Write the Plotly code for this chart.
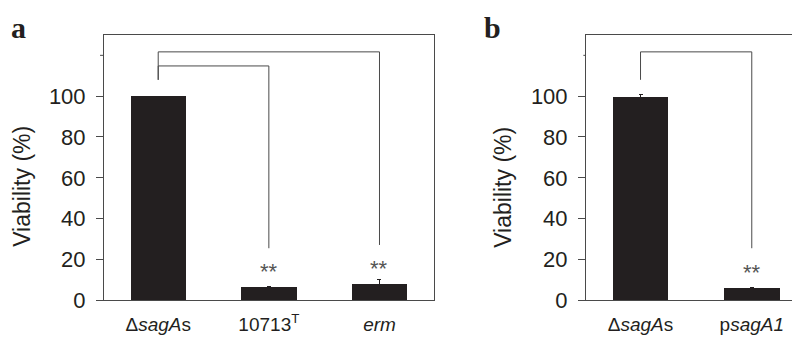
import plotly.graph_objects as go

# ---- data ----
cats_a = ["Δ<i>sagA</i>s", "10713<sup>T</sup>", "<i>erm</i>"]
vals_a = [100.0, 6.3, 7.9]
err_a = [0.0, 0.5, 2.2]

cats_b = ["Δ<i>sagA</i>s", "p<i>sagA1</i>"]
vals_b = [99.6, 6.1]
err_b = [1.2, 0.4]

y_ticks = [0, 20, 40, 60, 80, 100]
y_ticklabels = ["0", "20", "40", "60", "80", "100"]
y_extra_tick = 120

# significance brackets: (from index, to index, bar height, drop-to value)
brackets_a = [(0, 1, 114.8, 25.5), (0, 2, 121.7, 27.1)]
brackets_b = [(0, 1, 121.7, 25.5)]
bracket_base = 108.0
stars_a = [(1, 14.0), (2, 15.5)]
stars_b = [(1, 13.5)]

BAR = "#231f20"
LINE = "#4a4a4a"
FONT = "Liberation Sans, Arial, sans-serif"

fig = go.Figure()
fig.add_trace(go.Bar(x=list(range(len(cats_a))), y=vals_a, width=0.5,
                     marker=dict(color=BAR, line=dict(width=0)),
                     error_y=dict(type="data", array=err_a, color=BAR, thickness=1, width=2, visible=True),
                     xaxis="x", yaxis="y", showlegend=False))
fig.add_trace(go.Bar(x=list(range(len(cats_b))), y=vals_b, width=0.5,
                     marker=dict(color=BAR, line=dict(width=0)),
                     error_y=dict(type="data", array=err_b, color=BAR, thickness=1, width=2, visible=True),
                     xaxis="x2", yaxis="y2", showlegend=False))

def add_brackets(brs, xr, yr):
    for (i0, i1, h, low) in brs:
        fig.add_shape(type="path",
                      path=f"M {i0},{bracket_base} L {i0},{h} L {i1},{h} L {i1},{low}",
                      xref=xr, yref=yr, line=dict(color=LINE, width=1))

add_brackets(brackets_a, "x", "y")
add_brackets(brackets_b, "x2", "y2")

# short unlabeled tick at 120
for xr, yr in [("x domain", "y"), ("x2 domain", "y2")]:
    fig.add_shape(type="line", xref=xr, yref=yr, x0=-0.012, x1=0, y0=y_extra_tick, y1=y_extra_tick,
                  line=dict(color=LINE, width=1))

for (i, yv) in stars_a:
    fig.add_annotation(x=i, y=yv, xref="x", yref="y", text="**", showarrow=False,
                       font=dict(family=FONT, size=22, color="#555"), yanchor="middle")
for (i, yv) in stars_b:
    fig.add_annotation(x=i, y=yv, xref="x2", yref="y2", text="**", showarrow=False,
                       font=dict(family=FONT, size=22, color="#555"), yanchor="middle")

# panel letters
fig.add_annotation(x=1 / 800, y=1 - 1 / 337, xref="paper", yref="paper", text="<b>a</b>",
                   showarrow=False, xanchor="left", yanchor="top",
                   font=dict(family="Liberation Serif, Times New Roman, serif", size=30, color="#231f20"))
fig.add_annotation(x=474 / 800, y=1 - 1 / 337, xref="paper", yref="paper", text="<b>b</b>",
                   showarrow=False, xanchor="left", yanchor="top",
                   font=dict(family="Liberation Serif, Times New Roman, serif", size=30, color="#231f20"))

# y titles
for xp in [0 / 800, 481 / 800]:
    fig.add_annotation(x=xp, y=1 - 186 / 337, xref="paper", yref="paper", text="Viability (%)",
                       showarrow=False, textangle=-90, xanchor="left", yanchor="middle",
                       borderpad=0,
                       font=dict(family=FONT, size=23, color="#231f20"))

yaxis_common = dict(range=[0, 130], tickmode="array", tickvals=y_ticks, ticktext=y_ticklabels,
                    ticks="outside", ticklen=7, tickwidth=1, tickcolor=LINE,
                    ticklabelstandoff=6,
                    showline=True, linecolor=LINE, linewidth=1, mirror=True,
                    showgrid=False, zeroline=False,
                    tickfont=dict(family=FONT, size=22, color="#231f20"),
                    fixedrange=True)
xaxis_common = dict(tickmode="array", ticks="", showline=True, linecolor=LINE, linewidth=1, mirror=True,
                    showgrid=False, zeroline=False, ticklabelstandoff=7,
                    tickfont=dict(family=FONT, size=19, color="#231f20"), fixedrange=True)

y_dom = [(337 - 304) / 337, (337 - 28) / 337]
fig.update_layout(
    width=800, height=337, margin=dict(l=0, r=0, t=0, b=0),
    paper_bgcolor="white", plot_bgcolor="white",
    xaxis=dict(domain=[96 / 800, 425.7 / 800], range=[-0.49, 2.49],
               tickvals=list(range(len(cats_a))), ticktext=cats_a, anchor="y", **xaxis_common),
    yaxis=dict(domain=y_dom, anchor="x", **yaxis_common),
    xaxis2=dict(domain=[578 / 800, 798.3 / 800], range=[-0.49, 1.49],
                tickvals=list(range(len(cats_b))), ticktext=cats_b, anchor="y2", **xaxis_common),
    yaxis2=dict(domain=y_dom, anchor="x2", **yaxis_common),
    bargap=0,
)

fig.write_html("out.html")
